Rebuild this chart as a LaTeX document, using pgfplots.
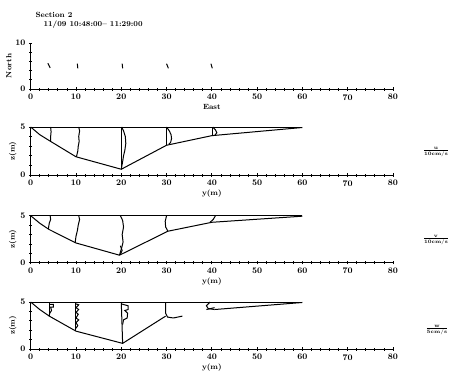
\documentclass[border=0pt]{standalone}
\usepackage{pgfplots}
\pgfplotsset{compat=1.18}

\pgfplotsset{
  sec/.style={
    scale only axis, width=362.3pt, xmin=0, xmax=80,
    axis x line*=bottom, axis y line*=left,
    axis line style={-, line width=1pt},
    xtick distance=10, minor x tick num=4,
    tick style={black, line width=0.8pt},
    major tick length=3.5pt, minor tick length=3pt, tick align=center,
    /pgf/number format/assume math mode=true,
    ticklabel style={font=\fontsize{8.5}{9}\selectfont\bfseries},
    label style={font=\fontsize{7.5}{8}\selectfont\bfseries},
    cycle list={{black, solid, mark=none}},
    every axis plot/.append style={line width=1pt},
    clip=false,
  },
  xsec/.style={sec, height=47pt, ymin=0, ymax=5, ytick={0,5}, minor y tick num=4,
    xlabel={y(m)}, ylabel={z(m)},
    xlabel style={yshift=3pt}, ylabel style={yshift=-3pt}},
}

\begin{document}
\begin{tikzpicture}[x=1pt,y=1pt]
\useasboundingbox (0,0) rectangle (450,-384);

% heading
\node[anchor=west, font=\fontsize{7.5}{8}\selectfont\bfseries] at (32,-15) {Section 2};
\node[anchor=west, font=\fontsize{7.5}{8}\selectfont\bfseries] at (40,-25) {11/09 10:48:00-- 11:29:00};

% plan view: north component of depth-averaged flow
\begin{axis}[sec, at={(30.7pt,-89pt)}, anchor=south west, height=46pt,
  ymin=0, ymax=10, ytick={0,10}, minor y tick num=4,
  xlabel={East}, ylabel={North}, xlabel style={yshift=3pt}, ylabel style={yshift=-3pt}]
\addplot coordinates {(3.8,5.6) (4.3,4.6)};
\addplot coordinates {(10.3,5.5) (10.4,4.5)};
\addplot coordinates {(20.2,5.5) (20.3,4.5)};
\addplot coordinates {(30.0,5.5) (30.4,4.5)};
\addplot coordinates {(39.8,5.5) (40.1,4.5)};
\end{axis}

% u component
\begin{axis}[xsec, at={(30.7pt,-175pt)}, anchor=south west, height=48pt]
\addplot coordinates {(0,5) (60,5)};
\addplot coordinates {(0,5) (2,4.2) (4.4,3.5) (10,1.9) (20,0.6) (30,3.1) (40,4.1) (60,4.95)};
\addplot coordinates {(4.4,5) (4.5,4.5) (4.4,4.0) (4.4,3.5)};
\addplot coordinates {(10.6,5) (10.8,4.6) (10.6,4.0) (10.7,3.5) (10.5,3.0) (10.4,2.5) (10.1,1.9)};
\addplot coordinates {(20.1,5) (20.1,0.6)};
\addplot coordinates {(20.1,5) (20.5,4.6) (20.9,4.0) (21.0,3.3) (20.8,2.6) (20.5,2.0) (20.3,1.4) (20.0,0.6)};
\addplot coordinates {(30.0,5) (30.0,3.1)};
\addplot coordinates {(30.0,5) (30.6,4.6) (31.0,4.2) (31.1,3.8) (30.9,3.4) (30.5,3.2)};
\addplot coordinates {(40.2,5) (40.2,4.1)};
\addplot coordinates {(40.2,5) (40.8,4.7) (41.1,4.4) (40.6,4.1)};
\end{axis}
\node[font=\fontsize{5.5}{6}\selectfont\bfseries] at (436,-152) {$\frac{\mathbf{u}}{\mathbf{10cm/s}}$};

% v component
\begin{axis}[xsec, at={(30.7pt,-262.7pt)}, anchor=south west]
\addplot coordinates {(0,5) (60,5)};
\addplot coordinates {(0,5) (2,4.2) (4,3.55) (10,2.1) (19.6,0.8) (30.3,3.35) (40,4.3) (60,4.95)};
\addplot coordinates {(4.3,5) (4.4,4.6) (4.1,4.2) (3.9,3.6)};
\addplot coordinates {(10.6,5) (10.8,4.6) (10.5,4.0) (10.3,3.4) (10.0,2.8) (9.8,2.1)};
\addplot coordinates {(19.8,5) (20.3,4.5) (20.5,3.8) (20.2,3.0) (20.4,2.2) (20.1,1.6) (19.6,0.8)};
\addplot coordinates {(19.8,1.8) (20.2,1.3) (19.8,0.9)};
\addplot coordinates {(30.0,5) (29.7,4.4) (29.8,3.8) (30.3,3.35)};
\addplot coordinates {(40.8,5) (40.3,4.6) (39.6,4.3)};
\end{axis}
\node[font=\fontsize{5.5}{6}\selectfont\bfseries] at (436,-240) {$\frac{\mathbf{v}}{\mathbf{10cm/s}}$};

% w component
\begin{axis}[xsec, at={(30.7pt,-349pt)}, anchor=south west]
\addplot coordinates {(0,5) (60,5)};
\addplot coordinates {(0,5) (2,4.2) (4.1,3.5) (10,1.9) (20.3,0.6) (29.8,3.5)};
\addplot coordinates {(40.6,4.2) (60,4.95)};
\addplot coordinates {(4.1,5) (4.1,3.5)};
\addplot coordinates {(4.1,4.75) (5.0,4.75) (5.0,4.45) (4.4,4.45) (4.6,4.1) (4.2,3.8) (4.1,3.6)};
\addplot coordinates {(10,5) (10,1.9)};
\addplot coordinates {(10,4.8) (10.6,4.7) (10,4.4) (10.6,4.2) (10,3.9) (10.5,3.7) (10,3.3) (10.6,3.1) (10,2.8) (10.4,2.5) (10,2.2)};
\addplot coordinates {(20,5) (20.3,0.6)};
\addplot coordinates {(20,4.8) (21.5,4.6) (21.5,4.2) (20.8,4.1) (21.4,3.8) (21.3,3.3) (20.5,3.1) (20.3,2.6)};
\addplot coordinates {(29.8,5) (29.8,3.8) (30.2,3.4) (31.5,3.3) (33.5,3.5)};
\addplot coordinates {(39.6,5) (38.8,4.6) (39.2,4.3) (40.6,4.2)};
\addplot coordinates {(38.8,4.2) (40.6,4.4)};
\end{axis}
\node[font=\fontsize{5.5}{6}\selectfont\bfseries] at (437,-330) {$\frac{\mathbf{w}}{\mathbf{5cm/s}}$};
\end{tikzpicture}
\end{document}
